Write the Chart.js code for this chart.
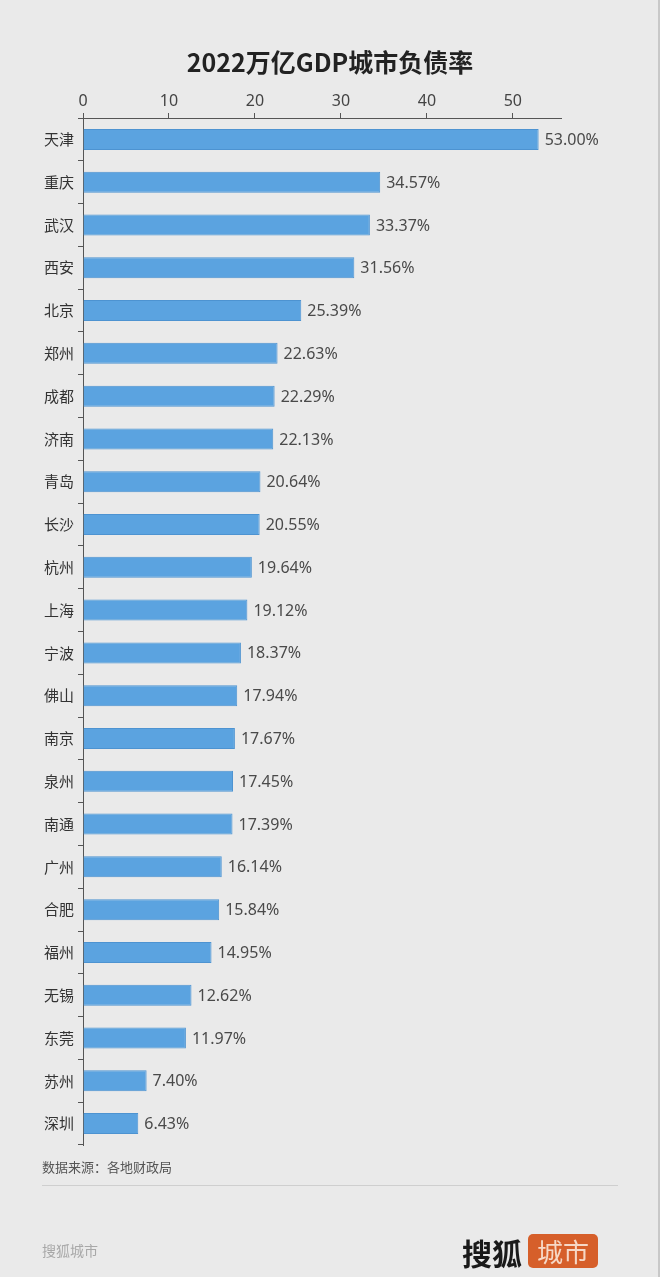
<!DOCTYPE html>
<html>
<head>
<meta charset="utf-8">
<script src="https://cdn.jsdelivr.net/npm/chart.js@4.4.0/dist/chart.umd.min.js"></script>
<style>
  html, body { margin: 0; padding: 0; background: #eaeaea; }
  body { width: 660px; height: 1277px; position: relative; overflow: hidden;
         font-family: "Noto Sans CJK SC", "Noto Sans", sans-serif; }
  #wrap { position: absolute; left: 0; top: 0; width: 660px; height: 1277px; }
  .title { position: absolute; top: 43px; left: 0; width: 660px; text-align: center;
           font-size: 25px; font-weight: bold; color: #222; }
  .source { position: absolute; left: 42px; top: 1157px; font-size: 13px; color: #555; }
  .rule { position: absolute; left: 42px; top: 1185px; width: 576px; height: 1px; background: #cfcfcf; }
  .brand { position: absolute; left: 42px; top: 1240px; font-size: 14px; color: #a8a8a8; }
  .logo { position: absolute; left: 462px; top: 1230px; font-size: 30px; font-weight: bold; color: #1a1a1a; }
  .logo span { display: inline-block; margin-left: 6px; background: #d65f2a; color: #f6d8c6; vertical-align: 3px;
               font-weight: normal; font-size: 26px; padding: 0 9px; border-radius: 5px; line-height: 34px; }
  .edge { position: absolute; right: 0; top: 0; width: 2px; height: 1277px; background: #c8c8c8; }
</style>
</head>
<body>
<div id="wrap"><canvas id="chart"></canvas></div>
<div class="title">2022万亿GDP城市负债率</div>
<div class="source">数据来源：各地财政局</div>
<div class="rule"></div>
<div class="brand">搜狐城市</div>
<div class="logo">搜狐<span>城市</span></div>
<div class="edge"></div>
<script>
const cities = ['天津', '重庆', '武汉', '西安', '北京', '郑州', '成都', '济南', '青岛', '长沙', '杭州', '上海',
  '宁波', '佛山', '南京', '泉州', '南通', '广州', '合肥', '福州', '无锡', '东莞', '苏州', '深圳'];
const debtRatio = [53.00, 34.57, 33.37, 31.56, 25.39, 22.63, 22.29, 22.13, 20.64, 20.55, 19.64, 19.12,
  18.37, 17.94, 17.67, 17.45, 17.39, 16.14, 15.84, 14.95, 12.62, 11.97, 7.40, 6.43];
const xTicks = [0, 10, 20, 30, 40, 50];

const valueLabels = {
  id: 'valueLabels',
  afterDatasetsDraw(chart) {
    const ctx = chart.ctx;
    const meta = chart.getDatasetMeta(0);
    ctx.save();
    ctx.font = '16px "Noto Sans", sans-serif';
    ctx.fillStyle = '#4a4a4a';
    ctx.textBaseline = 'middle';
    meta.data.forEach((bar, i) => {
      ctx.fillText(debtRatio[i].toFixed(2) + '%', bar.x + 6, bar.y + 1);
    });
    ctx.restore();
  }
};

new Chart(document.getElementById('chart'), {
  type: 'bar',
  data: {
    labels: cities,
    datasets: [{
      data: debtRatio,
      backgroundColor: '#5ba3e0',
      borderColor: '#4d93d1',
      borderWidth: 1,
      barPercentage: 0.49,
      categoryPercentage: 1.0
    }]
  },
  options: {
    indexAxis: 'y',
    responsive: true,
    maintainAspectRatio: false,
    animation: false,
    layout: { padding: { left: 0, top: 0, right: 99, bottom: 132 } },
    plugins: { legend: { display: false }, tooltip: { enabled: false } },
    scales: {
      x: {
        position: 'top',
        min: 0,
        max: 55.6,
        afterBuildTicks: (s) => { s.ticks = xTicks.map(v => ({ value: v })); },
        afterFit: (s) => { s.height = 118; },
        grid: { drawOnChartArea: false, drawTicks: true, tickLength: 5, color: '#555' },
        border: { color: '#555', width: 1 },
        ticks: { font: { size: 16, family: '"Noto Sans", sans-serif' }, color: '#444', padding: 2 }
      },
      y: {
        afterFit: (s) => { s.width = 83; },
        grid: { drawOnChartArea: false, drawTicks: true, tickLength: 5, color: '#555', offset: true },
        border: { color: '#555', width: 1 },
        ticks: { font: { size: 15, family: '"Noto Sans CJK SC", sans-serif' }, color: '#333', padding: 4 }
      }
    }
  },
  plugins: [valueLabels]
});
</script>
</body>
</html>
